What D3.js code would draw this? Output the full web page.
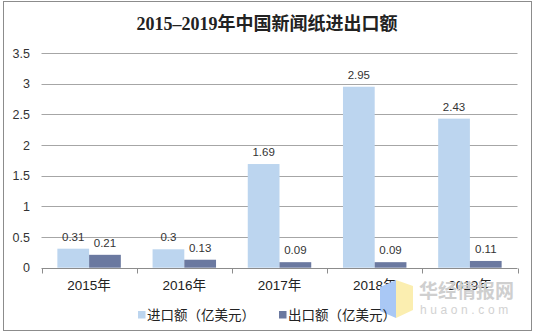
<!DOCTYPE html>
<html>
<head>
<meta charset="utf-8">
<script src="https://cdn.jsdelivr.net/npm/d3@7"></script>
<style>
  body { margin: 0; background: #fff; }
  text { font-family: "Liberation Sans", Arial, "Noto Sans CJK SC", sans-serif; }
</style>
</head>
<body>
<div id="chart"></div>
<script>
const years = ['2015年', '2016年', '2017年', '2018年', '2019年'];
const importValues = [0.31, 0.3, 1.69, 2.95, 2.43];
const exportValues = [0.21, 0.13, 0.09, 0.09, 0.11];
const seriesNames = ['进口额（亿美元）', '出口额（亿美元）'];
const yTicks = [0, 0.5, 1, 1.5, 2, 2.5, 3, 3.5];

const W = 534, H = 335;
const margin = { left: 41.5, right: 517.5, top: 53, bottom: 267.7 };
const colors = ['#bcd5ef', '#6b79a0'];

const svg = d3.select('#chart').append('svg')
  .attr('width', W)
  .attr('height', H);

// outer frame
svg.append('rect')
  .attr('x', 3.5).attr('y', 1.5)
  .attr('width', 528).attr('height', 329)
  .attr('fill', '#fff')
  .attr('stroke', '#8c8c8c')
  .attr('stroke-width', 1);

svg.append('text')
  .attr('x', 267).attr('y', 30)
  .attr('text-anchor', 'middle')
  .style('font-family', '"Liberation Serif", "DejaVu Serif", "Noto Sans CJK SC", serif')
  .style('font-weight', 'bold')
  .style('font-size', '18px')
  .attr('fill', '#222')
  .text('2015–2019年中国新闻纸进出口额');

const x = d3.scaleBand()
  .domain(years)
  .range([margin.left, margin.right]);

const y = d3.scaleLinear()
  .domain([0, 3.5])
  .range([margin.bottom, margin.top]);

// gridlines
svg.append('g')
  .selectAll('line')
  .data(yTicks.filter(d => d > 0))
  .enter().append('line')
  .attr('x1', margin.left).attr('x2', margin.right)
  .attr('y1', d => Math.round(y(d)) + 0.5)
  .attr('y2', d => Math.round(y(d)) + 0.5)
  .attr('stroke', '#a6a6a6');

// y labels
svg.append('g')
  .selectAll('text')
  .data(yTicks)
  .enter().append('text')
  .attr('x', 30)
  .attr('y', d => y(d) + 4.5)
  .attr('text-anchor', 'end')
  .style('font-size', '12.5px')
  .attr('fill', '#333')
  .text(d => d);

// bars
const bw = x.bandwidth() / 3;
const series = [importValues, exportValues];
series.forEach((vals, s) => {
  const g = svg.append('g');
  g.selectAll('rect')
    .data(vals)
    .enter().append('rect')
    .attr('x', (d, i) => x(years[i]) + bw / 2 + s * bw)
    .attr('y', d => y(d))
    .attr('width', bw)
    .attr('height', d => y(0) - y(d))
    .attr('fill', colors[s]);
  g.selectAll('text')
    .data(vals)
    .enter().append('text')
    .attr('x', (d, i) => x(years[i]) + bw / 2 + s * bw + bw / 2)
    .attr('y', d => y(d) - 8)
    .attr('text-anchor', 'middle')
    .style('font-size', '11.5px')
    .attr('fill', '#333')
    .text(d => d);
});

// x axis
const xAxis = svg.append('g');
xAxis.append('line')
  .attr('x1', margin.left).attr('x2', margin.right)
  .attr('y1', Math.round(y(0)) + 0.5).attr('y2', Math.round(y(0)) + 0.5)
  .attr('stroke', '#8c8c8c');
xAxis.selectAll('line.tick')
  .data(years.concat(['end']))
  .enter().append('line')
  .attr('class', 'tick')
  .attr('x1', (d, i) => Math.round(margin.left + i * x.bandwidth()) + 0.5)
  .attr('x2', (d, i) => Math.round(margin.left + i * x.bandwidth()) + 0.5)
  .attr('y1', Math.round(y(0)) + 0.5)
  .attr('y2', Math.round(y(0)) + 5.5)
  .attr('stroke', '#8c8c8c');
xAxis.selectAll('text')
  .data(years)
  .enter().append('text')
  .attr('x', d => x(d) + x.bandwidth() / 2)
  .attr('y', 289.5)
  .attr('text-anchor', 'middle')
  .style('font-size', '13.5px')
  .attr('fill', '#222')
  .text(d => d);

// watermark
const wm = svg.append('g');
wm.append('path')
  .attr('d', 'M380,287 L396,280 L396,318 L380,311 Z')
  .attr('fill', '#a9c8f5');
wm.append('path')
  .attr('d', 'M396,280 L413,286 L413,310 L396,318 Z')
  .attr('fill', '#fbeeb0');
wm.append('text')
  .attr('x', 419).attr('y', 298)
  .style('font-size', '19px')
  .style('font-weight', 'bold')
  .style('font-family', '"Noto Sans CJK SC", sans-serif')
  .attr('fill', '#cfcfcf')
  .text('华经情报网');
wm.append('text')
  .attr('x', 420).attr('y', 314)
  .style('font-size', '12px')
  .style('letter-spacing', '3.6px')
  .attr('fill', '#d2d2d2')
  .text('huaon.com');

// legend
const legendX = [138, 279];
seriesNames.forEach((name, s) => {
  svg.append('rect')
    .attr('x', legendX[s]).attr('y', 311)
    .attr('width', 7.5).attr('height', 7.5)
    .attr('fill', colors[s]);
  svg.append('text')
    .attr('x', legendX[s] + 9).attr('y', 320)
    .style('font-size', '13.5px')
    .style('font-family', '"Noto Sans CJK SC", sans-serif')
    .attr('fill', '#222')
    .text(name);
});
</script>
</body>
</html>
